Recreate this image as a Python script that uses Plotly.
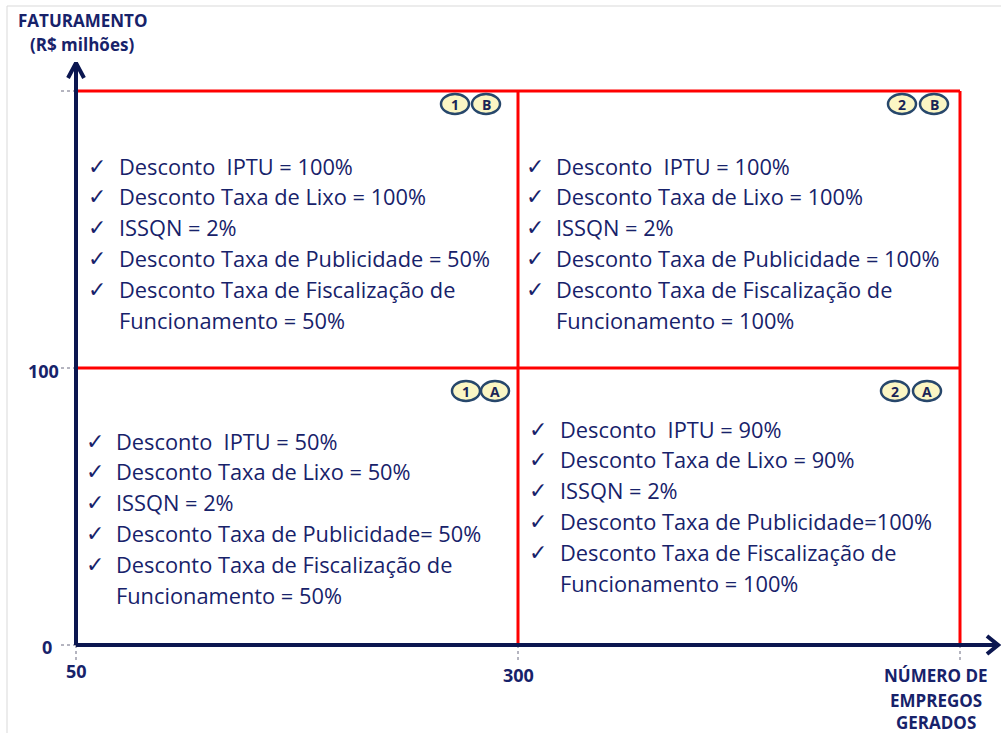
import plotly.graph_objects as go

# ---------------- data ----------------
x_breaks = [50, 300, 550]          # número de empregos gerados
y_breaks = [0, 100, 200]           # faturamento (R$ milhões)
x_tick_labels = ["50", "300"]
y_tick_labels = ["0", "100"]
x_title_lines = ["NÚMERO DE", "EMPREGOS", "GERADOS"]
y_title_lines = ["FATURAMENTO", "(R$ milhões)"]

q1b_items = ["Desconto\u00a0\u00a0IPTU = 100%", "Desconto Taxa de Lixo = 100%", "ISSQN = 2%",
             "Desconto Taxa de Publicidade = 50%", "Desconto Taxa de Fiscalização de",
             "Funcionamento = 50%"]
q2b_items = ["Desconto\u00a0\u00a0IPTU = 100%", "Desconto Taxa de Lixo = 100%", "ISSQN = 2%",
             "Desconto Taxa de Publicidade = 100%", "Desconto Taxa de Fiscalização de",
             "Funcionamento = 100%"]
q1a_items = ["Desconto\u00a0\u00a0IPTU = 50%", "Desconto Taxa de Lixo = 50%", "ISSQN = 2%",
             "Desconto Taxa de Publicidade= 50%", "Desconto Taxa de Fiscalização de",
             "Funcionamento = 50%"]
q2a_items = ["Desconto\u00a0\u00a0IPTU = 90%", "Desconto Taxa de Lixo = 90%", "ISSQN = 2%",
             "Desconto Taxa de Publicidade=100%", "Desconto Taxa de Fiscalização de",
             "Funcionamento = 100%"]
item_checked = [True, True, True, True, True, False]
badges = [("1", "B"), ("2", "B"), ("1", "A"), ("2", "A")]

# ---------------- layout / style ----------------
W, H = 1001, 733
PX_X0, PX_X1 = 76, 518      # pixel of x=50 and x=300
PX_Y0, PX_Y1 = 645, 368     # pixel of y=0 and y=100
sx = (x_breaks[1] - x_breaks[0]) / (PX_X1 - PX_X0)   # data per px
sy = (y_breaks[1] - y_breaks[0]) / (PX_Y0 - PX_Y1)
x_range = [x_breaks[0] - PX_X0 * sx, x_breaks[0] + (W - PX_X0) * sx]
y_range = [y_breaks[0] - (H - PX_Y0) * sy, y_breaks[0] + PX_Y0 * sy]

def dx(px):
    return px * sx

def dy(px):
    return px * sy

def X(px):
    return x_breaks[0] + dx(px - PX_X0)

def Y(py):
    return y_breaks[0] + dy(PX_Y0 - py)

NAVY = "#0b1650"
TEXT = "#17226a"
RED = "#ff0000"
FONT = "Open Sans"

fig = go.Figure()
shapes = []
annotations = []

# page border (light grey)
shapes.append(dict(type="line", xref="paper", yref="paper", x0=7 / W, x1=1, y0=1 - 6 / H, y1=1 - 6 / H,
                   line=dict(color="#d9d9d9", width=1)))
shapes.append(dict(type="line", xref="paper", yref="paper", x0=7 / W, x1=7 / W, y0=0, y1=1 - 6 / H,
                   line=dict(color="#d9d9d9", width=1)))

# dotted tick guides
for yv in y_breaks:
    fig.add_trace(go.Scatter(x=[x_breaks[0] - dx(15), x_breaks[0]], y=[yv, yv], mode="lines",
                             line=dict(color="#6b6b80", width=1, dash="dot"), hoverinfo="skip"))
for xv in x_breaks:
    fig.add_trace(go.Scatter(x=[xv, xv], y=[y_breaks[0], y_breaks[0] - dy(16)], mode="lines",
                             line=dict(color="#6b6b80", width=1, dash="dot"), hoverinfo="skip"))

# red quadrant lines
fig.add_trace(go.Scatter(x=[x_breaks[0], x_breaks[2], None, x_breaks[0], x_breaks[2]],
                         y=[y_breaks[2], y_breaks[2], None, y_breaks[1], y_breaks[1]],
                         mode="lines", line=dict(color=RED, width=3), hoverinfo="skip"))
fig.add_trace(go.Scatter(x=[x_breaks[1], x_breaks[1], None, x_breaks[2], x_breaks[2]],
                         y=[y_breaks[0], y_breaks[2], None, y_breaks[0], y_breaks[2]],
                         mode="lines", line=dict(color=RED, width=3), hoverinfo="skip"))

# axes with arrow heads
x_tip = X(998)
y_tip = Y(63)
fig.add_trace(go.Scatter(x=[x_breaks[0], x_tip], y=[y_breaks[0], y_breaks[0]], mode="lines",
                         line=dict(color=NAVY, width=4), hoverinfo="skip"))
fig.add_trace(go.Scatter(x=[x_breaks[0], x_breaks[0]], y=[y_breaks[0], y_tip], mode="lines",
                         line=dict(color=NAVY, width=4), hoverinfo="skip"))
fig.add_trace(go.Scatter(x=[x_tip - dx(11), x_tip, x_tip - dx(11)],
                         y=[y_breaks[0] + dy(9), y_breaks[0], y_breaks[0] - dy(9)], mode="lines",
                         line=dict(color=NAVY, width=4), hoverinfo="skip"))
fig.add_trace(go.Scatter(x=[x_breaks[0] - dx(8), x_breaks[0], x_breaks[0] + dx(8)],
                         y=[y_tip - dy(15), y_tip, y_tip - dy(15)], mode="lines",
                         line=dict(color=NAVY, width=4), hoverinfo="skip"))

# quadrant text blocks: (items, check x px, text x px, first line y px)
blocks = [
    (q1b_items, 86, 117, 166),
    (q2b_items, 524, 554, 166),
    (q1a_items, 84, 114, 441),
    (q2a_items, 527, 558, 429),
]
LINE_PX = 30.8
for items, cpx, tpx, ypx in blocks:
    for i, (txt, chk) in enumerate(zip(items, item_checked)):
        yy = Y(ypx + i * LINE_PX)
        if chk:
            annotations.append(dict(x=X(cpx), y=yy, xref="x", yref="y",
                                    text="✓", showarrow=False, xanchor="left", yanchor="middle",
                                    font=dict(family="DejaVu Sans", size=22, color=TEXT)))
        annotations.append(dict(x=X(tpx), y=yy, xref="x", yref="y",
                                text=txt, showarrow=False, xanchor="left", yanchor="middle",
                                font=dict(family=FONT, size=21.8, color=TEXT)))

# badges: centers in px
badge_pos = [((455, 104), (486, 104)), ((902, 104), (934, 104)),
             ((466, 391), (495, 391)), ((895, 391), (927, 391))]
for (a, b), pos in zip(badges, badge_pos):
    for lab, (cx, cy) in zip((a, b), pos):
        xc, yc = X(cx), Y(cy)
        shapes.append(dict(type="circle", xref="x", yref="y",
                           x0=xc - dx(14), x1=xc + dx(14), y0=yc - dy(10), y1=yc + dy(10),
                           fillcolor="#fbf6c4", line=dict(color="#27476b", width=2.5)))
        annotations.append(dict(x=xc, y=yc, xref="x", yref="y", text="<b>%s</b>" % lab,
                                showarrow=False, xanchor="center", yanchor="middle",
                                font=dict(family="Open Sans", size=14, color="#1a2456")))

# tick labels
bold = dict(family=FONT, size=18, color=TEXT)
annotations.append(dict(x=X(54), y=Y(647), xref="x", yref="y",
                        text="<b>%s</b>" % y_tick_labels[0], showarrow=False, xanchor="right",
                        yanchor="middle", font=bold))
annotations.append(dict(x=X(61), y=Y(371), xref="x", yref="y",
                        text="<b>%s</b>" % y_tick_labels[1], showarrow=False, xanchor="right",
                        yanchor="middle", font=bold))
annotations.append(dict(x=x_breaks[0], y=Y(671), xref="x", yref="y",
                        text="<b>%s</b>" % x_tick_labels[0], showarrow=False, xanchor="center",
                        yanchor="middle", font=bold))
annotations.append(dict(x=x_breaks[1], y=Y(675), xref="x", yref="y",
                        text="<b>%s</b>" % x_tick_labels[1], showarrow=False, xanchor="center",
                        yanchor="middle", font=bold))

# axis titles
tfont = dict(family=FONT, size=17, color=TEXT)
for line, ypx in zip(y_title_lines, [20, 44]):
    annotations.append(dict(x=X(82), y=Y(ypx), xref="x", yref="y", text="<b>%s</b>" % line,
                            showarrow=False, xanchor="center", yanchor="middle", font=tfont))
for line, ypx in zip(x_title_lines, [675, 700, 722]):
    annotations.append(dict(x=X(936), y=Y(ypx), xref="x", yref="y", text="<b>%s</b>" % line,
                            showarrow=False, xanchor="center", yanchor="middle", font=tfont))

fig.update_layout(
    width=W, height=H, margin=dict(l=0, r=0, t=0, b=0),
    paper_bgcolor="white", plot_bgcolor="white", showlegend=False,
    xaxis=dict(range=x_range, visible=False, fixedrange=True),
    yaxis=dict(range=y_range, visible=False, fixedrange=True),
    shapes=shapes, annotations=annotations,
)

fig.write_html("out.html", post_script="document.body.style.margin='0';",
               config={"displayModeBar": False})
